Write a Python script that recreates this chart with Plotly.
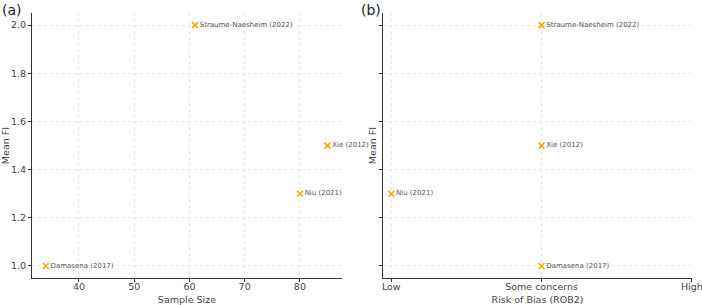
import plotly.graph_objects as go

studies = ["Straume-Naesheim (2022)", "Xie (2012)", "Niu (2021)", "Damasena (2017)"]
sample_size = [61, 85, 80, 34]
mean_fi = [2.0, 1.5, 1.3, 1.0]
rob_levels = ["Low", "Some concerns", "High"]
rob_study = ["Some concerns", "Some concerns", "Low", "Some concerns"]
rob_idx = [rob_levels.index(r) for r in rob_study]

orange = "#FFA500"
marker = dict(symbol="x-thin", size=6, line=dict(color=orange, width=1.6), color=orange)
textfont = dict(family="DejaVu Sans", size=7, color="#555555")

fig = go.Figure()
fig.add_trace(go.Scatter(x=sample_size, y=mean_fi, mode="markers+text", text=studies,
                         textposition="middle right", textfont=textfont, marker=marker,
                         xaxis="x", yaxis="y", showlegend=False, cliponaxis=False))
fig.add_trace(go.Scatter(x=rob_idx, y=mean_fi, mode="markers+text", text=studies,
                         textposition="middle right", textfont=textfont, marker=marker,
                         xaxis="x2", yaxis="y2", showlegend=False, cliponaxis=False))

tickfont = dict(family="DejaVu Sans", size=9.5, color="#444444")
titlefont = dict(family="DejaVu Sans", size=9.5, color="#444444")
common = dict(showline=True, linecolor="#333333", linewidth=1.2, ticks="outside", ticklen=3,
              tickcolor="#333333", showgrid=True, gridcolor="#e6e6e6", griddash="dot",
              gridwidth=1, zeroline=False, tickfont=tickfont, mirror=False,
              ticklabeloverflow="allow", automargin=False)

fig.update_layout(
    width=702, height=305, margin=dict(l=0, r=0, t=0, b=0),
    paper_bgcolor="white", plot_bgcolor="white",
    xaxis=dict(domain=[0.0456, 0.487], range=[31.5, 87.6], tickvals=[40, 50, 60, 70, 80],
               ticklabelstandoff=-4,
               title=dict(text="Sample Size", font=titlefont, standoff=6), anchor="y", **common),
    yaxis=dict(domain=[0.0885, 0.957], range=[0.95, 2.05],
               tickvals=[1.0, 1.2, 1.4, 1.6, 1.8, 2.0], tickformat=".1f",
               title=dict(text="Mean FI", font=titlefont, standoff=3), anchor="x", **common),
    xaxis2=dict(domain=[0.5456, 0.9858], range=[-0.055, 2.001], tickvals=[0, 1, 2],
                ticktext=rob_levels, ticklabelstandoff=-4,
                title=dict(text="Risk of Bias (ROB2)", font=titlefont, standoff=6), anchor="y2", **common),
    yaxis2=dict(domain=[0.0885, 0.957], range=[0.95, 2.05],
                tickvals=[1.0, 1.2, 1.4, 1.6, 1.8, 2.0], showticklabels=False,
                title=dict(text="Mean FI", font=titlefont, standoff=0), anchor="x2", **common),
    annotations=[
        dict(text="(a)", x=0, y=1.0, xref="paper", yref="paper", xanchor="left", yanchor="top",
             showarrow=False, font=dict(family="DejaVu Sans", size=14, color="#222222")),
        dict(text="(b)", x=0.511, y=1.0, xref="paper", yref="paper", xanchor="left", yanchor="top",
             showarrow=False, font=dict(family="DejaVu Sans", size=14, color="#222222")),
    ],
)

fig.write_html("out.html")
